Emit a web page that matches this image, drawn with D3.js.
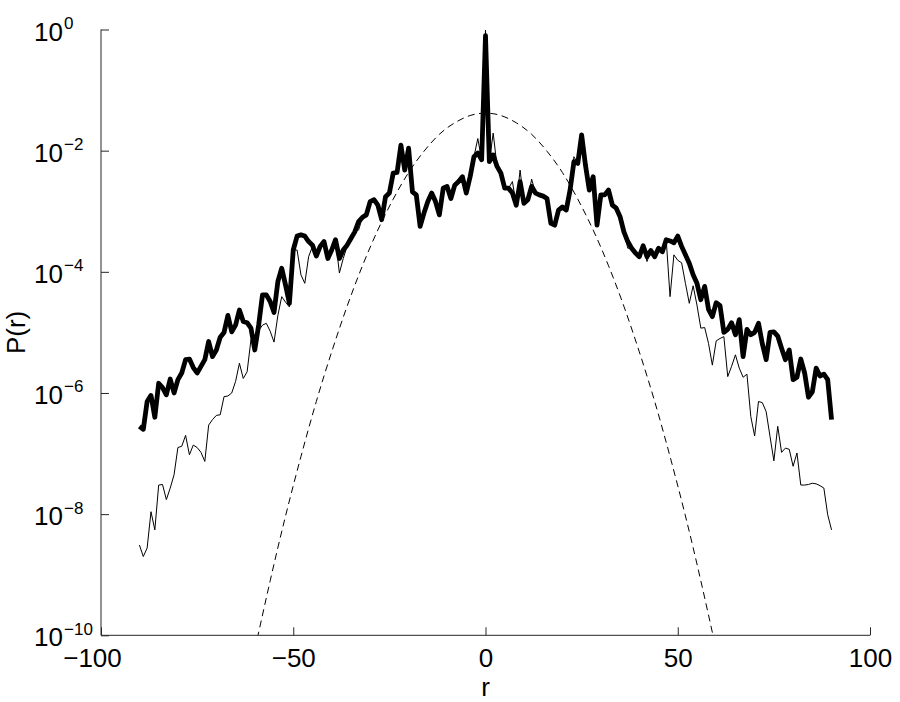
<!DOCTYPE html>
<html>
<head>
<meta charset="utf-8">
<script src="https://cdn.jsdelivr.net/npm/d3@7/dist/d3.min.js"></script>
<style>
  html, body { margin: 0; padding: 0; background: #fff; }
  svg { display: block; font-family: "Liberation Sans", Arial, Helvetica, sans-serif; }
</style>
</head>
<body>
<svg id="chart" width="900" height="702"></svg>
<script>
// ---- data (P stored as log10 exponents) ----
const rStart = -90, rEnd = 90;   // sample positions r = -90 ... 90, step 1

const thickLog10 = [
  -6.55,-6.60,-6.14,-6.04,-6.40,-5.84,-5.91,-6.03,-5.77,-6.00,
  -5.78,-5.67,-5.45,-5.44,-5.58,-5.67,-5.56,-5.45,-5.15,-5.40,
  -5.29,-5.08,-5.00,-4.72,-4.99,-4.88,-4.63,-4.82,-4.84,-4.93,
  -5.29,-4.88,-4.38,-4.38,-4.49,-4.67,-4.16,-3.94,-4.22,-4.52,
  -3.64,-3.41,-3.39,-3.41,-3.50,-3.56,-3.74,-3.58,-3.50,-3.78,
  -3.64,-3.47,-3.78,-3.64,-3.56,-3.45,-3.34,-3.17,-3.10,-3.06,
  -2.84,-2.81,-2.90,-3.14,-2.76,-2.70,-2.37,-2.36,-1.91,-2.32,
  -1.96,-2.68,-2.73,-3.25,-3.03,-2.84,-2.70,-2.84,-3.06,-2.62,
  -2.59,-2.79,-2.57,-2.51,-2.43,-2.70,-2.43,-2.10,-2.04,-2.15,
  -0.10,
  -2.18,-2.07,-2.26,-2.37,-2.62,-2.62,-2.70,-2.90,-2.51,-2.87,
  -2.81,-2.59,-2.70,-2.73,-2.75,-2.79,-3.20,-3.23,-2.98,-2.93,
  -2.98,-2.65,-2.18,-2.21,-1.74,-2.24,-2.65,-2.43,-3.23,-2.73,
  -2.73,-2.65,-2.90,-2.95,-3.09,-3.34,-3.50,-3.61,-3.69,-3.75,
  -3.57,-3.75,-3.65,-3.75,-3.61,-3.67,-3.47,-3.49,-3.52,-3.41,
  -3.58,-3.72,-3.86,-4.05,-4.19,-4.46,-4.24,-4.62,-4.74,-4.51,
  -4.56,-5.00,-4.95,-4.84,-5.04,-4.79,-5.40,-4.95,-5.04,-5.00,
  -4.85,-5.19,-5.45,-5.00,-4.99,-5.06,-5.26,-5.45,-5.29,-5.78,
  -5.74,-5.44,-5.67,-6.07,-5.98,-5.59,-5.72,-5.69,-5.78,-6.44
];

const thinLog10 = [
  -8.51,-8.70,-8.56,-7.96,-8.26,-7.52,-7.51,-7.76,-7.57,-7.35,
  -6.90,-6.88,-6.70,-7.02,-6.86,-6.90,-6.98,-7.13,-6.53,-6.44,
  -6.37,-6.36,-6.06,-6.05,-6.00,-5.81,-5.51,-5.76,-5.65,-5.12,
  -5.04,-4.97,-4.88,-4.85,-4.98,-5.16,-4.72,-4.41,-4.50,-4.58,
  -3.64,-3.64,-4.05,-4.19,-3.75,-3.58,-3.74,-3.58,-3.50,-3.78,
  -3.64,-3.47,-4.02,-3.78,-3.58,-3.45,-3.34,-3.31,-3.10,-3.06,
  -2.84,-2.81,-2.90,-3.14,-2.76,-2.70,-2.37,-2.36,-1.91,-2.32,
  -1.96,-2.68,-2.73,-3.25,-3.03,-2.84,-2.70,-2.84,-3.06,-2.62,
  -2.59,-2.79,-2.57,-2.51,-2.43,-2.70,-2.43,-2.10,-1.80,-2.15,
  -0.01,
  -2.18,-1.71,-2.26,-2.37,-2.62,-2.62,-2.51,-2.90,-2.32,-2.87,
  -2.81,-2.47,-2.70,-2.73,-2.75,-2.79,-3.20,-3.23,-2.98,-2.93,
  -2.98,-2.65,-2.10,-2.21,-1.74,-2.24,-2.65,-2.43,-3.23,-2.73,
  -2.73,-2.65,-2.90,-2.95,-3.09,-3.34,-3.61,-3.61,-3.69,-3.75,
  -3.57,-3.83,-3.65,-3.75,-3.61,-3.67,-3.47,-4.41,-3.72,-3.81,
  -3.85,-4.19,-4.52,-4.23,-4.55,-4.93,-4.92,-5.18,-5.54,-5.14,
  -5.10,-5.07,-5.73,-5.56,-5.37,-5.59,-5.74,-5.69,-6.39,-6.71,
  -6.14,-6.16,-6.31,-6.72,-7.12,-6.55,-6.98,-6.91,-6.93,-7.21,
  -6.99,-7.52,-7.52,-7.51,-7.49,-7.50,-7.53,-7.57,-8.01,-8.26
];

// dashed reference curve, read at r = -60, -56, ..., 60
const gaussR = [-60,-56,-52,-48,-44,-40,-36,-32,-28,-24,-20,-16,-12,-8,-4,0,4,8,12,16,20,24,28,32,36,40,44,48,52,56,60];
const gaussLog10 = [-10.24,-9.10,-8.03,-7.05,-6.14,-5.32,-4.57,-3.90,-3.31,-2.80,-2.36,-2.01,-1.73,-1.54,-1.42,-1.38,
                    -1.42,-1.54,-1.73,-2.01,-2.36,-2.80,-3.31,-3.90,-4.57,-5.32,-6.14,-7.05,-8.03,-9.10,-10.24];

const xTicks = [-100, -50, 0, 50, 100];
const xTickLabels = ["\u2212100", "\u221250", "0", "50", "100"];
const yTickExponents = [0, -2, -4, -6, -8, -10];
const yTickExpLabels = ["0", "\u22122", "\u22124", "\u22126", "\u22128", "\u221210"];
const xLabel = "r";
const yLabel = "P(r)";

// ---- drawing ----
const svg = d3.select("#chart");
const plot = { left: 101, right: 870, top: 29.5, bottom: 635.3 };
const fontMain = 26, fontExp = 17;

const x = d3.scaleLinear().domain([-100, 100]).range([plot.left, plot.right]);
const y = d3.scaleLog().domain([1e-10, 1]).range([plot.bottom, plot.top]);

const rValues = d3.range(rStart, rEnd + 1, 1);
const thick = rValues.map((r, i) => ({ r, p: Math.pow(10, thickLog10[i]) }));
const thin = rValues.map((r, i) => ({ r, p: Math.pow(10, thinLog10[i]) }));
const gauss = gaussR.map((r, i) => ({ r, p: Math.pow(10, gaussLog10[i]) }));

svg.append("defs").append("clipPath").attr("id", "clip")
  .append("rect")
  .attr("x", plot.left).attr("y", plot.top - 10)
  .attr("width", plot.right - plot.left).attr("height", plot.bottom - plot.top + 10);

const g = svg.append("g").attr("clip-path", "url(#clip)");

const lineSmooth = d3.line().x(d => x(d.r)).y(d => y(d.p)).curve(d3.curveNatural);
const lineLin = d3.line().x(d => x(d.r)).y(d => y(d.p)).curve(d3.curveLinear);

g.append("path").datum(gauss)
  .attr("d", lineSmooth)
  .attr("fill", "none").attr("stroke", "#000").attr("stroke-width", 1)
  .attr("stroke-dasharray", "7,4.5");

g.append("path").datum(thick)
  .attr("d", lineLin)
  .attr("fill", "none").attr("stroke", "#000").attr("stroke-width", 4.8)
  .attr("stroke-linejoin", "round").attr("stroke-linecap", "butt");

g.append("path").datum(thin)
  .attr("d", lineLin)
  .attr("fill", "none").attr("stroke", "#000").attr("stroke-width", 1)
  .attr("stroke-linejoin", "miter");

// axes
const axisColor = "#262626";
const xAxis = d3.axisBottom(x).tickValues(xTicks).tickSize(-8).tickFormat("");
const xg = svg.append("g").attr("transform", `translate(0,${plot.bottom})`).call(xAxis);
xg.select(".domain").attr("stroke", axisColor).attr("d", `M${plot.left},0H${plot.right}`);
xg.selectAll(".tick line").attr("stroke", axisColor);

// the leftmost label sits slightly left of its tick in the reference
const xLabelShift = [-9, 0, 0, 0, 0];
xg.selectAll(".tick").append("text")
  .data(xTickLabels)
  .attr("y", 31.5).attr("x", (d, i) => xLabelShift[i])
  .attr("text-anchor", "middle")
  .attr("fill", "#000").attr("font-size", fontMain)
  .attr("font-family", "Liberation Sans, Arial, sans-serif")
  .text(d => d);

const yAxis = d3.axisLeft(y).tickValues(yTickExponents.map(e => Math.pow(10, e))).tickSize(-8).tickFormat("");
const yg = svg.append("g").attr("transform", `translate(${plot.left},0)`).call(yAxis);
yg.select(".domain").attr("stroke", axisColor).attr("d", `M0,${plot.top}V${plot.bottom}`);
yg.selectAll(".tick line").attr("stroke", axisColor);

yg.selectAll(".tick").each(function(d, i) {
  const t = d3.select(this);
  t.append("text")
    .attr("x", -38).attr("y", 10.5)
    .attr("text-anchor", "end")
    .attr("fill", "#000").attr("font-size", fontMain)
    .attr("font-family", "Liberation Sans, Arial, sans-serif")
    .text("10");
  t.append("text")
    .attr("x", -37).attr("y", -1)
    .attr("text-anchor", "start")
    .attr("fill", "#000").attr("font-size", fontExp)
    .attr("font-family", "Liberation Sans, Arial, sans-serif")
    .text(yTickExpLabels[i]);
});

svg.append("text")
  .attr("x", x(0)).attr("y", 696)
  .attr("text-anchor", "middle").attr("font-size", fontMain).attr("fill", "#000")
  .text(xLabel);

svg.append("text")
  .attr("transform", `translate(25,${(plot.top + plot.bottom) / 2}) rotate(-90)`)
  .attr("text-anchor", "middle").attr("font-size", fontMain).attr("fill", "#000")
  .text(yLabel);
</script>
</body>
</html>
